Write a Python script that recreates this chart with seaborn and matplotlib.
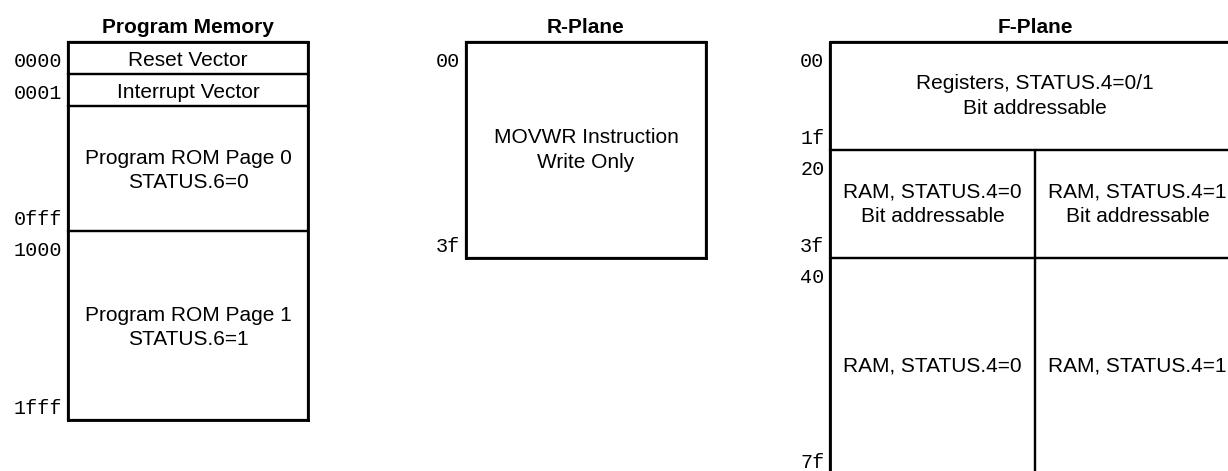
import matplotlib
matplotlib.use("Agg")
import matplotlib.pyplot as plt
import numpy as np
import seaborn as sns

# Program memory regions (not drawn to scale, so each row gets a display height)
pm_labels = ["Reset Vector", "Interrupt Vector",
             "Program ROM Page 0\nSTATUS.6=0", "Program ROM Page 1\nSTATUS.6=1"]
pm_start = [0x0000, 0x0001, 0x0002, 0x1000]
pm_end = [0x0000, 0x0001, 0x0fff, 0x1fff]
pm_rows = [1, 1, 3.9, 5.9]
pm_show_start = [True, True, False, True]
pm_show_end = [False, False, True, True]

# R-plane
r_labels = ["MOVWR Instruction\nWrite Only"]
r_start = [0x00]
r_end = [0x3f]

# F-plane (col 0 = STATUS.4=0 bank, col 1 = STATUS.4=1 bank, None = both)
f_labels = ["Registers, STATUS.4=0/1\nBit addressable",
            "RAM, STATUS.4=0\nBit addressable", "RAM, STATUS.4=1\nBit addressable",
            "RAM, STATUS.4=0", "RAM, STATUS.4=1"]
f_start = [0x00, 0x20, 0x20, 0x40, 0x40]
f_end = [0x1f, 0x3f, 0x3f, 0x7f, 0x7f]
f_col = [None, 0, 1, 0, 1]

sns.set_style("white")
plt.rcParams["font.family"] = ["Liberation Sans", "DejaVu Sans"]
plt.rcParams["text.color"] = "black"

W, H = 1228, 471
fig = plt.figure(figsize=(W / 100, H / 100), dpi=100)


def px_axes(left, top, width, height):
    return fig.add_axes([left / W, 1 - (top + height) / H, width / W, height / H])


def style_axes(ax, title, xmax, ymax):
    ax.set_xlim(0, xmax)
    ax.set_ylim(ymax, 0)
    ax.set_xticks([])
    ax.set_yticks([])
    for s in ax.spines.values():
        s.set_visible(True)
        s.set_color("black")
        s.set_linewidth(2)
        s.set_clip_on(False)
    ax.set_title(title, fontweight="bold", fontsize=15, pad=6.5, color="black")


def addr_label(ax, text, y, kind):
    off = -18 if kind == "start" else 4.3
    ax.annotate(text, xy=(0, y), xycoords="data", xytext=(-4, off),
                textcoords="offset points", ha="right", va="baseline",
                family="Liberation Mono", fontsize=14.5, annotation_clip=False)


def draw_regions(ax, x, w, top, bottom, labels, text_dy=0):
    top = np.asarray(top, dtype=float)
    bottom = np.asarray(bottom, dtype=float)
    ax.bar(x, bottom - top, bottom=top, width=w, fill=False,
           edgecolor="black", linewidth=1.6, clip_on=False)
    for xi, t, b, lab in zip(x, top, bottom, labels):
        ax.annotate(lab, xy=(xi, (t + b) / 2), xytext=(0, text_dy),
                    textcoords="offset points", ha="center", va="center",
                    fontsize=15, linespacing=1.35, annotation_clip=False)


# ---- Program Memory ----
pm_edges = np.concatenate([[0], np.cumsum(pm_rows)])
ax_pm = px_axes(68, 42, 240, 32 * pm_edges[-1])
draw_regions(ax_pm, [0.5] * len(pm_labels), 1, pm_edges[:-1], pm_edges[1:],
             pm_labels, text_dy=-1.5)
for i in range(len(pm_labels)):
    if pm_show_start[i]:
        addr_label(ax_pm, f"{pm_start[i]:04x}", pm_edges[i], "start")
    if pm_show_end[i]:
        addr_label(ax_pm, f"{pm_end[i]:04x}", pm_edges[i + 1], "end")
style_axes(ax_pm, "Program Memory", 1, pm_edges[-1])

# ---- R-Plane (3.375 px per address) ----
scale = 3.375
r_total = r_end[-1] + 1
ax_r = px_axes(466, 42, 240, scale * r_total)
draw_regions(ax_r, [0.5], 1, r_start, [e + 1 for e in r_end], r_labels)
for s, e in zip(r_start, r_end):
    addr_label(ax_r, f"{s:02x}", s, "start")
    addr_label(ax_r, f"{e:02x}", e + 1, "end")
style_axes(ax_r, "R-Plane", 1, r_total)

# ---- F-Plane ----
f_total = max(f_end) + 1
ax_f = px_axes(830, 42, 410, scale * f_total)
fx = [1.0 if c is None else c + 0.5 for c in f_col]
fw = [2.0 if c is None else 1.0 for c in f_col]
draw_regions(ax_f, fx, fw, f_start, [e + 1 for e in f_end], f_labels)
seen = set()
for s, e in zip(f_start, f_end):
    if s not in seen:
        addr_label(ax_f, f"{s:02x}", s, "start")
        addr_label(ax_f, f"{e:02x}", e + 1, "end")
        seen.add(s)
style_axes(ax_f, "F-Plane", 2, f_total)

fig.savefig("out.png", dpi=100)
